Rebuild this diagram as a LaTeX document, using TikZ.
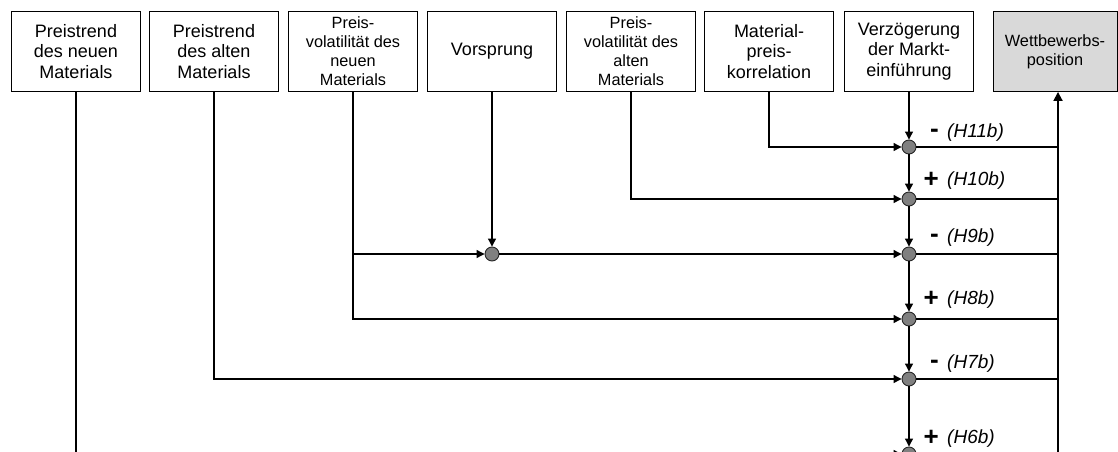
\documentclass[tikz,border=0pt]{standalone}
\usepackage{fontspec}
\setmainfont{Liberation Sans}
\usetikzlibrary{arrows.meta}
\definecolor{juncfill}{RGB}{128,128,128}
\definecolor{boxgray}{RGB}{217,217,217}
\begin{document}
\begin{tikzpicture}[x=1pt,y=-1pt,
  box/.style={draw, line width=0.9pt, inner sep=0pt, align=center,
    minimum width=129pt, minimum height=80pt,
    font=\fontsize{18}{20.5}\selectfont},
  smallbox/.style={box, font=\fontsize{16.3}{19}\selectfont},
  junc/.style={circle, draw=black!85, line width=0.9pt, fill=juncfill,
    minimum size=14pt, inner sep=0pt},
  arr/.style={line width=1.1pt, -{Triangle[length=8pt,width=8pt]}},
  line/.style={line width=1.1pt},
  mainarr/.style={line width=1.8pt, -{Triangle[length=9pt,width=9pt]}},
  sign/.style={font=\fontsize{26}{26}\selectfont\bfseries, inner sep=0pt, anchor=base east},
  hyp/.style={font=\fontsize{19}{20}\selectfont\itshape, inner sep=0pt, anchor=base west}]
\useasboundingbox (0,0) rectangle (1118,452);
\clip (0,0) rectangle (1118,452);
% boxes
\node[box] (b1) at (76,51.5) {Preistrend\\des neuen\\Materials};
\node[box] (b2) at (214,51.5) {Preistrend\\des alten\\Materials};
\node[smallbox] (b3) at (353,51.5) {Preis-\\volatilität des\\neuen\\Materials};
\node[box] (b4) at (492,51.5) {Vorsprung};
\node[smallbox] (b5) at (631,51.5) {Preis-\\volatilität des\\alten\\Materials};
\node[box] (b6) at (769,51.5) {Material-\\preis-\\korrelation};
\node[box] (b7) at (909,51.5) {Verzögerung\\der Markt-\\einführung};
\node[smallbox, fill=boxgray, minimum width=124pt] (b8) at (1055,51.5) {Wettbewerbs-\\position};
% junctions
\node[junc] (j11) at (909,147) {};
\node[junc] (j10) at (909,199) {};
\node[junc] (j9) at (909,254) {};
\node[junc] (j8) at (909,319) {};
\node[junc] (j7) at (909,379) {};
\node[junc] (j6) at (909,454) {};
\node[junc] (jv) at (492,254) {};
\coordinate (rb) at (1058,470);
% chain
\draw[arr] (b7.south) -- (j11);
\draw[arr] (j11) -- (j10);
\draw[arr] (j10) -- (j9);
\draw[arr] (j9) -- (j8);
\draw[arr] (j8) -- (j7);
\draw[arr] (j7) -- (j6);
% inputs
\draw[arr] (b6.south) |- (j11);
\draw[arr] (b5.south) |- (j10);
\draw[arr] (b4.south) -- (jv);
\draw[arr] (b3.south) |- (jv);
\draw[arr] (b3.south) |- (j8);
\draw[arr] (jv) -- (j9);
\draw[arr] (b2.south) |- (j7);
\draw[arr] (b1.south) |- (j6);
% outputs
\foreach \j in {j11,j10,j9,j8,j7,j6} \draw[line] (\j) -- (\j -| rb);
\draw[mainarr] (rb) -- (rb |- b8.south);
% labels
\node[sign] (s11) at (939,137) {-};
\node[hyp] (h11) at (947,137) {(H11b)};
\node[sign] (s10) at (939,187) {+};
\node[hyp] (h10) at (947,185) {(H10b)};
\node[sign] (s9) at (939,242) {-};
\node[hyp] (h9) at (947,242) {(H9b)};
\node[sign] (s8) at (939,306) {+};
\node[hyp] (h8) at (947,304) {(H8b)};
\node[sign] (s7) at (939,368) {-};
\node[hyp] (h7) at (947,368) {(H7b)};
\node[sign] (s6) at (939,445) {+};
\node[hyp] (h6) at (947,443) {(H6b)};
\end{tikzpicture}
\end{document}
